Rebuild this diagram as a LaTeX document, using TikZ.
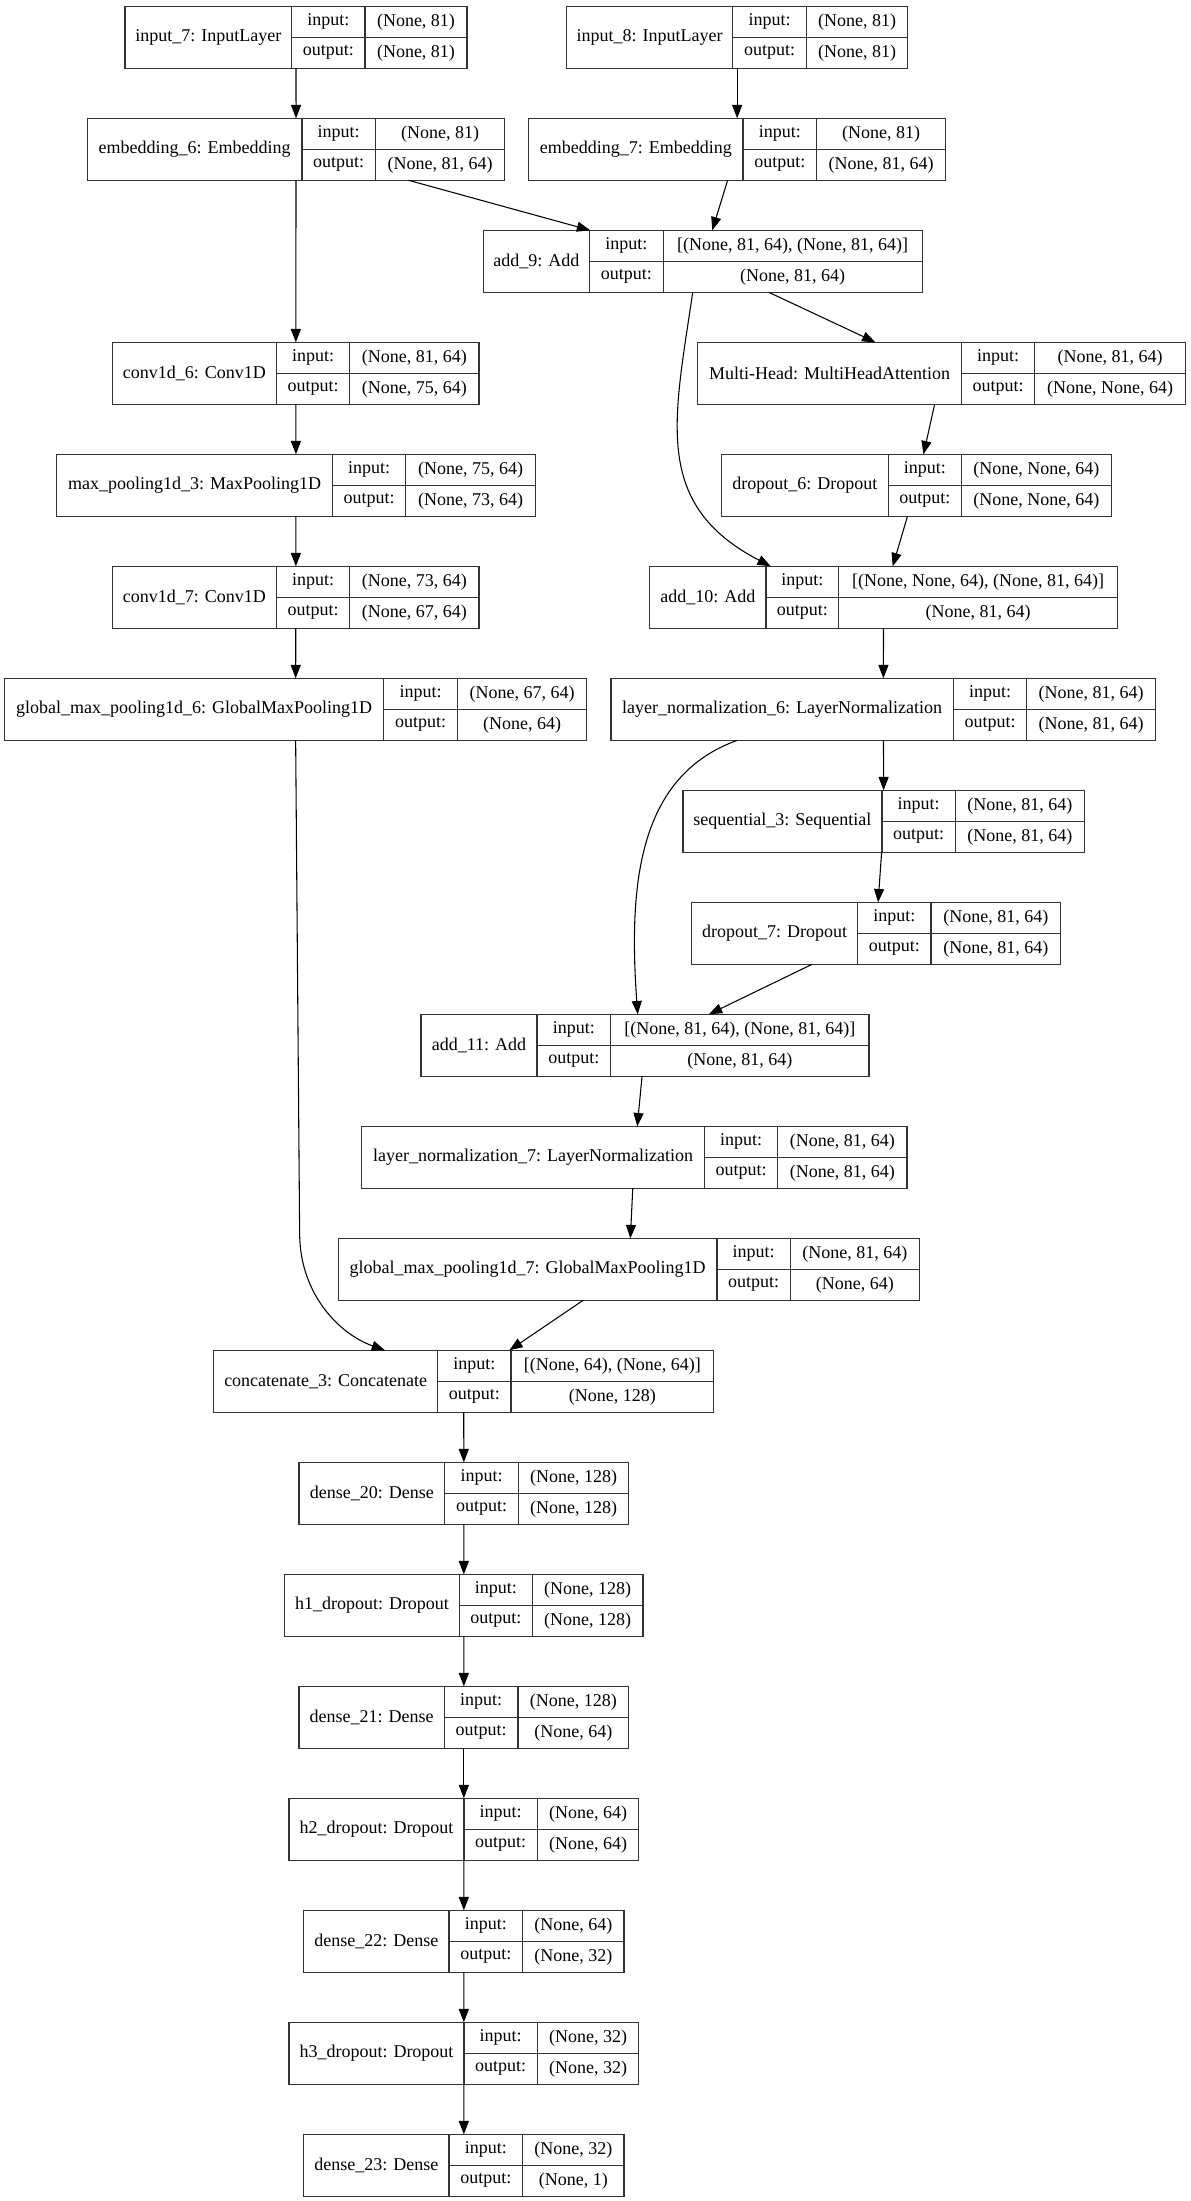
\documentclass[tikz,border=0pt]{standalone}
\usepackage{fontspec}
\setmainfont{Liberation Serif}
\usetikzlibrary{arrows.meta,calc}

% one Keras layer record: name, row, left, first divider, second divider, right, title, input, output
\newcommand{\layerbox}[9]{%
  \pgfmathsetmacro{\rowtop}{6.3+112*#2}
  \node[whole,minimum width={(#6-#3)*0.75pt},anchor=north west] (#1) at (#3,\rowtop) {};
  \node[cell,minimum width={(#4-#3)*0.75pt},minimum height=46.5pt,anchor=north west] (#1-t) at (#3,\rowtop) {#7};
  \node[cell,minimum width={(#5-#4)*0.75pt},anchor=north west] (#1-il) at (#4,\rowtop) {input:};
  \node[cell,minimum width={(#6-#5)*0.75pt},anchor=north west] (#1-iv) at (#5,\rowtop) {#8};
  \node[cell,minimum width={(#5-#4)*0.75pt},anchor=north west] (#1-ol) at (#4,\rowtop+31) {output:};
  \node[cell,minimum width={(#6-#5)*0.75pt},anchor=north west] (#1-ov) at (#5,\rowtop+31) {#9};
}

\begin{document}
\begin{tikzpicture}[x=0.75pt,y=-0.75pt,font=\fontsize{13.5}{16}\selectfont,
    cell/.style={draw=black!80,line width=1pt,inner sep=0pt,outer sep=0pt,minimum height=23.25pt,align=center},
    whole/.style={inner sep=0pt,outer sep=0pt,minimum height=46.5pt},
    edge/.style={line width=0.8pt,-{Triangle[length=10pt,width=7.5pt]}}]
  \useasboundingbox (0,0) rectangle (1191,2201);

  % left branch
  \layerbox{input7}{0}{125.1}{291.6}{365.1}{466.9}{input\_7: InputLayer}{(None, 81)}{(None, 81)}
  \layerbox{emb6}{1}{87.3}{302}{375.4}{504.8}{embedding\_6: Embedding}{(None, 81)}{(None, 81, 64)}
  \layerbox{conv6}{3}{112.5}{276.3}{349.8}{479.1}{conv1d\_6: Conv1D}{(None, 81, 64)}{(None, 75, 64)}
  \layerbox{pool3}{4}{56.6}{332.6}{405.7}{535.4}{max\_pooling1d\_3: MaxPooling1D}{(None, 75, 64)}{(None, 73, 64)}
  \layerbox{conv7}{5}{112.5}{276.3}{349.8}{479.1}{conv1d\_7: Conv1D}{(None, 73, 64)}{(None, 67, 64)}
  \layerbox{gmp6}{6}{4.6}{383.8}{457.3}{586.7}{global\_max\_pooling1d\_6: GlobalMaxPooling1D}{(None, 67, 64)}{(None, 64)}

  % right branch
  \layerbox{input8}{0}{566.6}{732.6}{806.5}{907.7}{input\_8: InputLayer}{(None, 81)}{(None, 81)}
  \layerbox{emb7}{1}{528.5}{743}{816.5}{945.8}{embedding\_7: Embedding}{(None, 81)}{(None, 81, 64)}
  \layerbox{add9}{2}{483.2}{589.7}{663.2}{922.2}{add\_9: Add}{[(None, 81, 64), (None, 81, 64)]}{(None, 81, 64)}
  \layerbox{mha}{3}{697.5}{961.5}{1034.5}{1185.5}{Multi-Head: MultiHeadAttention}{(None, 81, 64)}{(None, None, 64)}
  \layerbox{drop6}{4}{721.6}{888.2}{961.3}{1111.6}{dropout\_6: Dropout}{(None, None, 64)}{(None, None, 64)}
  \layerbox{add10}{5}{649.7}{766}{838.8}{1117.4}{add\_10: Add}{[(None, None, 64), (None, 81, 64)]}{(None, 81, 64)}
  \layerbox{ln6}{6}{611.1}{953.2}{1026.8}{1155.6}{layer\_normalization\_6: LayerNormalization}{(None, 81, 64)}{(None, 81, 64)}
  \layerbox{seq3}{7}{682.9}{882}{955.3}{1084.6}{sequential\_3: Sequential}{(None, 81, 64)}{(None, 81, 64)}
  \layerbox{drop7}{8}{691.4}{857.8}{931.1}{1060.5}{dropout\_7: Dropout}{(None, 81, 64)}{(None, 81, 64)}
  \layerbox{add11}{9}{421}{537}{610.7}{869}{add\_11: Add}{[(None, 81, 64), (None, 81, 64)]}{(None, 81, 64)}
  \layerbox{ln7}{10}{361.6}{704.5}{777.8}{907}{layer\_normalization\_7: LayerNormalization}{(None, 81, 64)}{(None, 81, 64)}
  \layerbox{gmp7}{11}{338.3}{717}{790.3}{919.3}{global\_max\_pooling1d\_7: GlobalMaxPooling1D}{(None, 81, 64)}{(None, 64)}

  % head
  \layerbox{concat3}{12}{213.7}{437.7}{511}{713.7}{concatenate\_3: Concatenate}{[(None, 64), (None, 64)]}{(None, 128)}
  \layerbox{dense20}{13}{299}{444.7}{518.3}{628.7}{dense\_20: Dense}{(None, 128)}{(None, 128)}
  \layerbox{h1drop}{14}{284.7}{459.3}{532.3}{643}{h1\_dropout: Dropout}{(None, 128)}{(None, 128)}
  \layerbox{dense21}{15}{299}{444.3}{518}{628.7}{dense\_21: Dense}{(None, 128)}{(None, 64)}
  \layerbox{h2drop}{16}{289}{464}{537.3}{638.7}{h2\_dropout: Dropout}{(None, 64)}{(None, 64)}
  \layerbox{dense22}{17}{303.7}{449}{522.7}{624}{dense\_22: Dense}{(None, 64)}{(None, 32)}
  \layerbox{h3drop}{18}{289}{464}{537.3}{638.7}{h3\_dropout: Dropout}{(None, 32)}{(None, 32)}
  \layerbox{dense23}{19}{303.7}{449}{522.7}{624}{dense\_23: Dense}{(None, 32)}{(None, 1)}

  % edges
  \draw[edge] (input7) -- (emb6);
  \draw[edge] (input8) -- (emb7);
  \draw[edge] (emb6) -- (conv6);
  \draw[edge] (emb6) -- (add9);
  \draw[edge] (emb7) -- (add9);
  \draw[edge] (conv6) -- (pool3);
  \draw[edge] (pool3) -- (conv7);
  \draw[edge] (conv7) -- (gmp6);
  \draw[edge] (add9) -- (mha);
  \draw[edge] (mha) -- (drop6);
  \draw[edge] (drop6) -- (add10);
  \draw[edge] ($(add9.south)+(-10,0)$) .. controls +(-18.7,128) and +(-118.7,-61.7) .. ($(add10.north)+(-112.8,0)$);
  \draw[edge] (add10) -- (ln6);
  \draw[edge] (ln6) -- (seq3);
  \draw[edge] (seq3) -- (drop7);
  \draw[edge] (drop7) -- (add11);
  \draw[edge] ($(ln6.south)+(-146,0)$) .. controls +(-97.4,35) and +(-9.7,-134.3) .. ($(add11.north)+(-7.3,0)$);
  \draw[edge] (add11) -- (ln7);
  \draw[edge] (ln7) -- (gmp7);
  \draw[edge] (gmp6.south) -- ++(4,495) .. controls +(1,60) and +(-45,-16) .. ($(concat3.north)+(-78.7,0)$);
  \draw[edge] (gmp7) -- (concat3);
  \draw[edge] (concat3) -- (dense20);
  \draw[edge] (dense20) -- (h1drop);
  \draw[edge] (h1drop) -- (dense21);
  \draw[edge] (dense21) -- (h2drop);
  \draw[edge] (h2drop) -- (dense22);
  \draw[edge] (dense22) -- (h3drop);
  \draw[edge] (h3drop) -- (dense23);
\end{tikzpicture}
\end{document}
